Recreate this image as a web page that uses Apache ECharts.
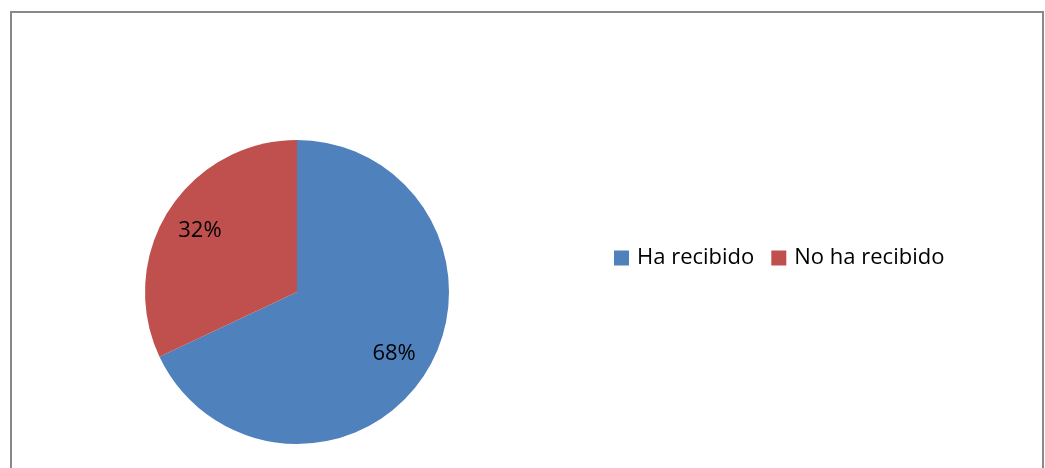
<!DOCTYPE html>
<html>
<head>
<meta charset="utf-8">
<script src="https://cdn.jsdelivr.net/npm/echarts@6/dist/echarts.min.js"></script>
<style>
  html, body { margin: 0; padding: 0; background: #fff; }
  #chart { width: 1045px; height: 468px; }
</style>
</head>
<body>
<div id="chart"></div>
<script>
// Respuestas: ha recibido / no ha recibido
const categories = ['Ha recibido', 'No ha recibido'];
const values = [68, 32];
const colors = ['#4F81BD', '#C0504D'];

const FONT = 'Open Sans, Liberation Sans, sans-serif';
const data = categories.map((name, i) => ({ name, value: values[i] }));

const chart = echarts.init(document.getElementById('chart'), null, { renderer: 'canvas' });
chart.setOption({
  animation: false,
  color: colors,
  graphic: [{
    type: 'rect',
    shape: { x: 11, y: 12, width: 1032, height: 480 },
    style: { fill: 'none', stroke: '#898989', lineWidth: 2 },
    silent: true
  }],
  legend: {
    data: categories,
    orient: 'horizontal',
    left: 614,
    top: 247,
    padding: 0,
    icon: 'rect',
    itemWidth: 15,
    itemHeight: 15,
    itemGap: 17,
    textStyle: { fontFamily: FONT, fontSize: 22, color: '#000', padding: [0, 0, 0, 3] }
  },
  series: [
    {
      type: 'pie',
      center: [297, 292],
      radius: [0, 152],
      startAngle: 90,
      clockwise: true,
      silent: true,
      label: { show: false },
      labelLine: { show: false },
      data: data
    },
    {
      // transparent ring that only carries the percentage labels
      type: 'pie',
      center: [297, 292],
      radius: [72, 152],
      startAngle: 90,
      clockwise: true,
      silent: true,
      legendHoverLink: false,
      itemStyle: { color: 'transparent' },
      label: {
        show: true,
        position: 'inside',
        formatter: p => p.value + '%',
        fontFamily: FONT,
        fontSize: 22,
        color: '#000'
      },
      labelLine: { show: false },
      data: data.map(d => ({ name: d.name + ' ', value: d.value }))
    }
  ]
});
</script>
</body>
</html>
